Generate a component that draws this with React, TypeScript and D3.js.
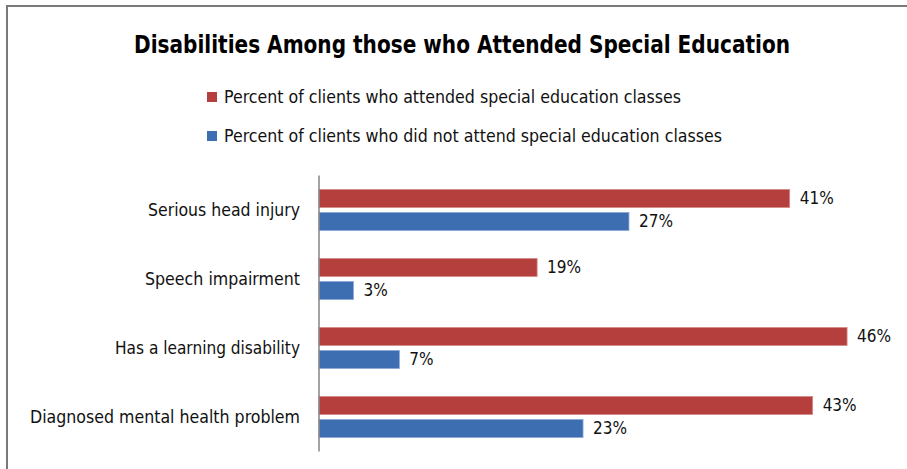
import React from "react";
import * as d3 from "d3";

const categories = [
  "Serious head injury",
  "Speech impairment",
  "Has a learning disability",
  "Diagnosed mental health problem",
];
const attended = [41, 19, 46, 43];
const notAttended = [27, 3, 7, 23];
const seriesNames = [
  "Percent of clients who attended special education classes",
  "Percent of clients who did not attend special education classes",
];
const seriesColors = ["#B53F3C", "#3D6EB1"];
const title = "Disabilities Among those who Attended Special Education";

const W = 907;
const H = 469;
const FONT = "'Liberation Sans Narrow', 'DejaVu Sans Condensed', 'Liberation Sans', sans-serif";

export default function App() {
  const x = d3.scaleLinear().domain([0, 50]).range([319, 893]);
  const y0 = d3.scaleBand<string>().domain(categories).range([175.5, 451.5]);
  const y1 = d3
    .scaleBand<string>()
    .domain(["a", "b"])
    .range([0, y0.bandwidth()])
    .paddingInner(5 / 23)
    .paddingOuter(14 / 23);
  const series = [attended, notAttended];
  const keys = ["a", "b"];
  const catWidths = [152, 155, 185, 270];

  return (
    <svg
      width={W}
      height={H}
      style={{ position: "absolute", left: 0, top: 0, background: "#fff" }}
    >
      <rect x={7} y={6} width={920} height={480} fill="#fff" stroke="#7a7a7a" strokeWidth={2} />
      <text
        x={462}
        y={53}
        textAnchor="middle"
        fontFamily={FONT}
        fontWeight="bold"
        fontSize={25}
        fill="#000"
        textLength={656}
        lengthAdjust="spacingAndGlyphs"
      >
        {title}
      </text>
      {seriesNames.map((s, i) => (
        <g key={s}>
          <rect x={207} y={92 + i * 39} width={10} height={10} fill={seriesColors[i]} />
          <text
            x={224}
            y={103 + i * 39}
            fontFamily={FONT}
            fontSize={17}
            fill="#111"
            textLength={i === 0 ? 457 : 498}
            lengthAdjust="spacingAndGlyphs"
          >
            {s}
          </text>
        </g>
      ))}
      {categories.map((c, ci) => (
        <g key={c}>
          <text
            x={300}
            y={(y0(c) as number) + y0.bandwidth() / 2}
            dy="0.35em"
            textAnchor="end"
            fontFamily={FONT}
            fontSize={17}
            fill="#111"
            textLength={catWidths[ci]}
            lengthAdjust="spacingAndGlyphs"
          >
            {c}
          </text>
          {series.map((vals, si) => {
            const by = (y0(c) as number) + (y1(keys[si]) as number);
            return (
              <g key={si}>
                <rect
                  x={x(0)}
                  y={by}
                  width={x(vals[ci]) - x(0)}
                  height={y1.bandwidth()}
                  fill={seriesColors[si]}
                  stroke={si === 0 ? "#d58a88" : "#8aa8d6"}
                  strokeWidth={0.8}
                />
                <text
                  x={x(vals[ci]) + 10}
                  y={by + y1.bandwidth() / 2}
                  dy="0.35em"
                  fontFamily={FONT}
                  fontSize={17}
                  fill="#111"
                >
                  {vals[ci]}%
                </text>
              </g>
            );
          })}
        </g>
      ))}
      <line x1={319} x2={319} y1={175.5} y2={451.5} stroke="#858585" strokeWidth={1.5} />
    </svg>
  );
}
